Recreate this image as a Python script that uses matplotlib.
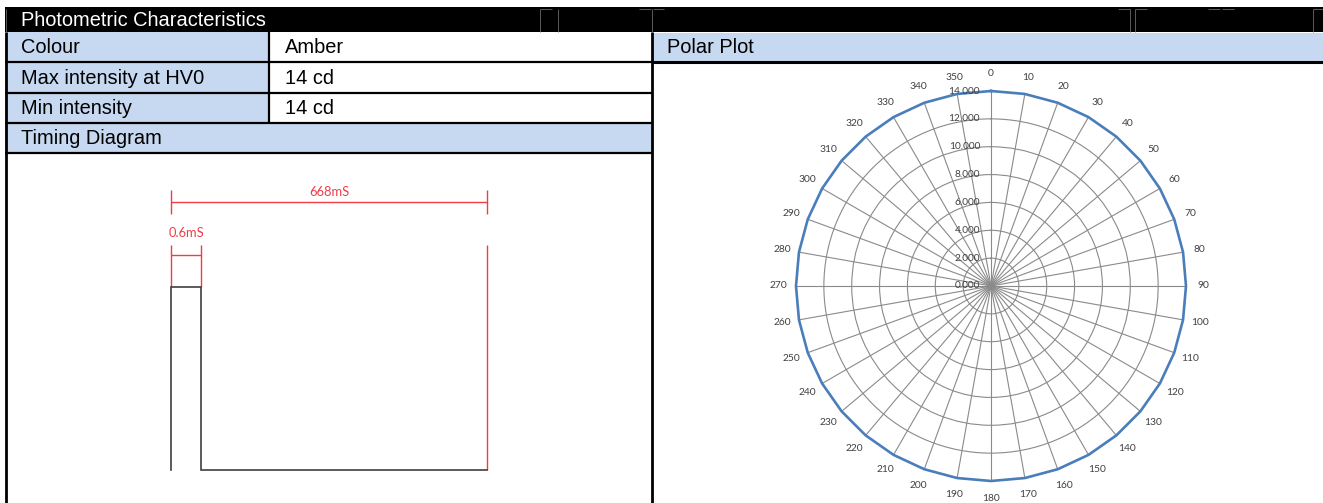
"""
plot.py — Photometric characteristics sheet: table header, timing diagram
          and polar intensity plot.
"""

import numpy as np
import matplotlib
matplotlib.use("Agg")
import matplotlib.pyplot as plt
from matplotlib.patches import Rectangle
from matplotlib.transforms import offset_copy

PALETTE = {
    "black":  "#000000",
    "band":   "#c6d9f0",
    "white":  "#ffffff",
    "red":    "#f03c46",
    "pulse":  "#404040",
    "grid":   "#8a8a8a",
    "blue":   "#4a7ebb",
    "label":  "#404040",
    "ghost":  "#6a6a6a",
}

W, H = 1323, 503

# ── Data ──────────────────────────────────────────────────────────────────────

TITLE        = "Photometric Characteristics"
ROW_LABELS   = ["Colour", "Max intensity at HV0", "Min intensity"]
ROW_VALUES   = ["Amber", "14 cd", "14 cd"]
TIMING_TITLE = "Timing Diagram"
POLAR_TITLE  = "Polar Plot"

PULSE_LABEL  = "0.6mS"
PERIOD_LABEL = "668mS"

# schematic waveform (not to scale): drawn pulse = 1 unit, period = 10.5 units
WAVE_T     = [0, 0, 1, 1, 10.5]
WAVE_LEVEL = [0, 1, 1, 0, 0]
PULSE_END  = 1
PERIOD_END = 10.5

ANGLES    = [0, 10, 20, 30, 40, 50, 60, 70, 80, 90, 100, 110,
             120, 130, 140, 150, 160, 170, 180, 190, 200, 210, 220, 230,
             240, 250, 260, 270, 280, 290, 300, 310, 320, 330, 340, 350]
INTENSITY = [14.0, 14.0, 14.0, 14.0, 14.0, 14.0, 14.0, 14.0, 14.0, 14.0, 14.0, 14.0,
             14.0, 14.0, 14.0, 14.0, 14.0, 14.0, 14.0, 14.0, 14.0, 14.0, 14.0, 14.0,
             14.0, 14.0, 14.0, 14.0, 14.0, 14.0, 14.0, 14.0, 14.0, 14.0, 14.0, 14.0]
RINGS     = [0, 2, 4, 6, 8, 10, 12, 14]

# ── Layout (pixels) ───────────────────────────────────────────────────────────

LEFT, MID, SPLIT = 5, 269, 652
HEAD_TOP, HEAD_BOT = 7, 32
ROW_EDGES = [32, 62, 93, 123, 153]
TEXT_X = 21
FS = 14.4

SANS  = "Liberation Sans"
SMALL = "Lato"

fig = plt.figure(figsize=(W / 100, H / 100), dpi=100)
fig.patch.set_facecolor(PALETTE["white"])

base = fig.add_axes([0, 0, 1, 1])
base.set_xlim(0, W)
base.set_ylim(H, 0)
base.axis("off")


def box(x0, y0, x1, y1, color):
    base.add_patch(Rectangle((x0, y0), x1 - x0, y1 - y0, facecolor=color,
                             edgecolor="none", zorder=1))


def line(xs, ys, color=PALETTE["black"], lw=1.6, z=3):
    base.plot(xs, ys, color=color, lw=lw, solid_capstyle="butt", zorder=z)


# ── Table ─────────────────────────────────────────────────────────────────────

box(LEFT, HEAD_TOP, W, HEAD_BOT, PALETTE["black"])
base.text(TEXT_X, (HEAD_TOP + HEAD_BOT) / 2 + 0.5, TITLE, color=PALETTE["white"],
          fontsize=FS, family=SANS, va="center", ha="left", zorder=4)

# faint cell-border remnants inside the black header
for xs, ys in [([LEFT + 1, LEFT + 1], [9, 32]),
               ([540, 540], [9, 32]), ([540, 552], [9, 9]),
               ([558, 558], [9, 32]), ([639, 651], [9, 9]),
               ([652, 652], [9, 32]), ([653, 664], [9, 9]),
               ([1130, 1130], [9, 32]), ([1118, 1130], [9, 9]),
               ([1135, 1135], [9, 32]), ([1135, 1147], [9, 9]),
               ([1208, 1220], [9, 9]), ([1222, 1234], [9, 9]),
               ([1313, 1313], [9, 32]), ([1313, 1323], [9, 9])]:
    line(xs, ys, color=PALETTE["ghost"], lw=0.6, z=2)

for i, (lab, val) in enumerate(zip(ROW_LABELS, ROW_VALUES)):
    y0, y1 = ROW_EDGES[i], ROW_EDGES[i + 1]
    box(LEFT, y0, MID, y1, PALETTE["band"])
    base.text(TEXT_X, (y0 + y1) / 2 + 0.5, lab, fontsize=FS, family=SANS,
              va="center", ha="left", color=PALETTE["black"], zorder=4)
    base.text(MID + 16, (y0 + y1) / 2 + 0.5, val, fontsize=FS, family=SANS,
              va="center", ha="left", color=PALETTE["black"], zorder=4)

box(LEFT, ROW_EDGES[3], SPLIT, ROW_EDGES[4], PALETTE["band"])
base.text(TEXT_X, (ROW_EDGES[3] + ROW_EDGES[4]) / 2 + 0.5, TIMING_TITLE,
          fontsize=FS, family=SANS, va="center", ha="left", zorder=4)

box(SPLIT, ROW_EDGES[0] + 1, W, ROW_EDGES[1], PALETTE["band"])
base.text(SPLIT + 15, (ROW_EDGES[0] + ROW_EDGES[1]) / 2 + 0.5, POLAR_TITLE,
          fontsize=FS, family=SANS, va="center", ha="left", zorder=4)

for y in ROW_EDGES[1:]:
    line([LEFT, SPLIT], [y, y], lw=1.6)
line([SPLIT, W], [ROW_EDGES[1], ROW_EDGES[1]], lw=2.2)
line([MID, MID], [ROW_EDGES[0], ROW_EDGES[3]], lw=1.6)
line([LEFT + 0.5, LEFT + 0.5], [HEAD_BOT, H], lw=2.0)
line([SPLIT - 0.5, SPLIT - 0.5], [HEAD_BOT, H], lw=2.0)

# ── Timing diagram ────────────────────────────────────────────────────────────

t_left, t_right, t_low, t_high = 171, 487, 470, 287
tax = fig.add_axes([t_left / W, (H - t_low) / H,
                    (t_right - t_left) / W, (t_low - t_high) / H])
tax.set_xlim(0, PERIOD_END)
tax.set_ylim(0, 1)
tax.axis("off")

red_kw = dict(color=PALETTE["red"], lw=1.0, clip_on=False, solid_capstyle="butt")
tax.plot(WAVE_T, WAVE_LEVEL, color=PALETTE["pulse"], lw=1.2, clip_on=False,
         solid_joinstyle="miter", zorder=3)

# pulse width dimension
for x in (0, PULSE_END):
    tax.plot([x, x], [1.0, 1.23], **red_kw)
tax.plot([0, PULSE_END], [1.175, 1.175], **red_kw)
tax.text(PULSE_END / 2, 1.295, PULSE_LABEL, color=PALETTE["red"], fontsize=9.3,
         family=SMALL, ha="center", va="center")

# period dimension
tax.plot([PERIOD_END, PERIOD_END], [0, 1.23], **red_kw)
tax.plot([0, PERIOD_END], [1.464, 1.464], **red_kw)
for x in (0, PERIOD_END):
    tax.plot([x, x], [1.40, 1.53], **red_kw)
tax.text(PERIOD_END / 2, 1.52, PERIOD_LABEL, color=PALETTE["red"], fontsize=9.3,
         family=SMALL, ha="center", va="center")

# ── Polar plot ────────────────────────────────────────────────────────────────

cx, cy, rad = 991, 286, 195
pax = fig.add_axes([(cx - rad) / W, (H - cy - rad) / H, 2 * rad / W, 2 * rad / H],
                   projection="polar")
pax.set_facecolor("none")
pax.set_theta_zero_location("N")
pax.set_theta_direction(-1)
pax.set_ylim(0, max(RINGS))
pax.set_yticks(RINGS)
pax.set_yticklabels([])
pax.set_thetagrids(ANGLES, labels=[str(a) for a in ANGLES],
                   fontsize=7.4, family=SMALL, color=PALETTE["label"])
pax.tick_params(axis="x", pad=1.8)
pax.grid(True, color=PALETTE["grid"], lw=0.8)
pax.spines["polar"].set_visible(False)

theta = np.deg2rad(ANGLES + [ANGLES[0]])
pax.plot(theta, INTENSITY + [INTENSITY[0]], color=PALETTE["blue"], lw=1.9,
         clip_on=False, zorder=5)

lab_tr = offset_copy(pax.transData, fig=fig, x=-11, y=0, units="dots")
for r in RINGS:
    pax.text(0, r, f"{r:.3f}", transform=lab_tr, ha="right", va="center",
             fontsize=7.3, family=SMALL, color=PALETTE["label"], zorder=6)

fig.savefig("out.png", dpi=100, facecolor=PALETTE["white"])
